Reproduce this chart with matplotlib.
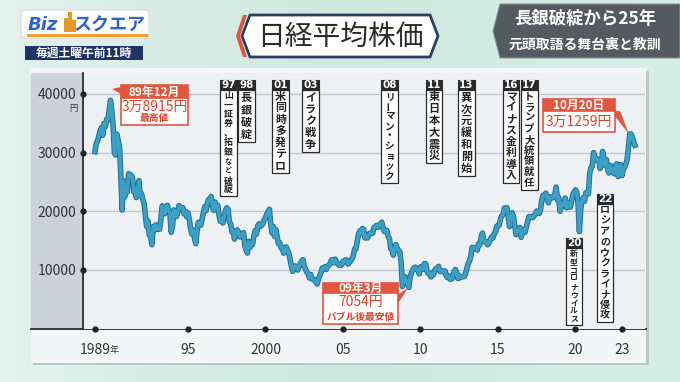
import numpy as np
import matplotlib.pyplot as plt
import matplotlib.patheffects as pe
from matplotlib.patches import Rectangle, Polygon, FancyBboxPatch

plt.rcParams['font.family'] = ['Noto Sans CJK JP', 'DejaVu Sans']

# 日経平均 month-end values (first point = end of 1988)
nikkei = [
    30159,
    31581, 31985, 32839, 33713, 34267, 32948, 34954, 34431, 35637, 35549, 37269, 38915,  # 1989
    37189, 34592, 29980, 29585, 33131, 31940, 31036, 25978, 20222, 25194, 22455, 23849,  # 1990
    23293, 26409, 26292, 26111, 25790, 23291, 23900, 22336, 23916, 25222, 22688, 22984,  # 1991
    22024, 21339, 19346, 17391, 18348, 15952, 15910, 14309, 17399, 16767, 17684, 16925,  # 1992
    17024, 16953, 18591, 20919, 20552, 19590, 20380, 21027, 20106, 19704, 16408, 17417,  # 1993
    20229, 19997, 19112, 19725, 20974, 20644, 20449, 20629, 19564, 19990, 19076, 19723,  # 1994
    18650, 17053, 16140, 16807, 15437, 14485, 16678, 18117, 17913, 17655, 18744, 19868,  # 1995
    20813, 20125, 21407, 22041, 21956, 22531, 20693, 20167, 21556, 20467, 21020, 19361,  # 1996
    18330, 18557, 18003, 19151, 20069, 20605, 20331, 18229, 17888, 16459, 16636, 15259,  # 1997
    16629, 16831, 16527, 15641, 15671, 15830, 16379, 14108, 13406, 12880, 14884, 13842,  # 1998
    14499, 14368, 15837, 16702, 16112, 17530, 17862, 17437, 17605, 17942, 18558, 18934,  # 1999
    19540, 19960, 20337, 17974, 16332, 17411, 15727, 16861, 15747, 14539, 14649, 13786,  # 2000
    13844, 12884, 12999, 13934, 13262, 12969, 11861, 10714, 9775, 10366, 10697, 10543,   # 2001
    9997, 10588, 11025, 11493, 11764, 10622, 10145, 9619, 9383, 8640, 9216, 8579,        # 2002
    8340, 8363, 7973, 7607, 8425, 9083, 9563, 10344, 10219, 10560, 10101, 10677,         # 2003
    10784, 11042, 11715, 11762, 11236, 11859, 11326, 11082, 10824, 10771, 10899, 11489,  # 2004
    11388, 11741, 11668, 11009, 11277, 11584, 11900, 12414, 13574, 13607, 14872, 16111,  # 2005
    16650, 16205, 17060, 16906, 15468, 15505, 15457, 16141, 16128, 16399, 16274, 17226,  # 2006
    17383, 17604, 17288, 17400, 17876, 18138, 17249, 16569, 16786, 16738, 15681, 15308,  # 2007
    13592, 13603, 12526, 13850, 14339, 13481, 13377, 13073, 11260, 7162, 8512, 8860,     # 2008
    7994, 7568, 7054, 8828, 9523, 9958, 10357, 10493, 10133, 10035, 9346, 10546,         # 2009
    10198, 10126, 11090, 11057, 9769, 9383, 9537, 8824, 9369, 9202, 9937, 10229,         # 2010
    10238, 10624, 9755, 9850, 9694, 9816, 9833, 8955, 8700, 8988, 8435, 8455,            # 2011
    8803, 9723, 10084, 9521, 8543, 9007, 8695, 8840, 8870, 8928, 9446, 10395,            # 2012
    11139, 11559, 12398, 13861, 13775, 13677, 13668, 13389, 14456, 14328, 15662, 16291,  # 2013
    14915, 14841, 14828, 14304, 14632, 15162, 15621, 15425, 16174, 16414, 17460, 17451,  # 2014
    17674, 18798, 19207, 19520, 20563, 20236, 20585, 18890, 17388, 19083, 19747, 19034,  # 2015
    17518, 16027, 16759, 16666, 17235, 15576, 16569, 16887, 16450, 17425, 18308, 19114,  # 2016
    19041, 19119, 18909, 19197, 19651, 20033, 19925, 19646, 20356, 22012, 22725, 22765,  # 2017
    23098, 22068, 21454, 22468, 22202, 22305, 22554, 22865, 24120, 21920, 22351, 20015,  # 2018
    20773, 21385, 21206, 22259, 20601, 21276, 21522, 20704, 21756, 22927, 23294, 23657,  # 2019
    23205, 21143, 16552, 20194, 21878, 22288, 21710, 23140, 23185, 22977, 26434, 27444,  # 2020
    27663, 30000, 29179, 28813, 28860, 28792, 27284, 28090, 30200, 28893, 27822, 28792,  # 2021
    27002, 26527, 27821, 26848, 27280, 26393, 27802, 28092, 25937, 27587, 27969, 26095,  # 2022
    27327, 27446, 28041, 28856, 30888, 33189, 33172, 32619, 31858, 31259,                # 2023
]
dates = 1989 + np.arange(len(nikkei)) / 12

y_ticks = [10000, 20000, 30000, 40000]
y_labels = ['10000', '20000', '30000', '40000']
x_ticks = [1989, 1995, 2000, 2005, 2010, 2015, 2020, 2023]
x_labels = ['1989', '95', '2000', '05', '10', '15', '20', '23']

event_years = ['97', '98', '01', '03', '08', '11', '13', '16', '17', '20', '22']
event_texts = ['山一証券、拓銀など破綻', '長銀破綻', '米同時多発テロ', 'イラク戦争',
               'リーマン・ショック', '東日本大震災', '異次元緩和開始', 'マイナス金利導入',
               'トランプ大統領就任', '新型コロナウイルス', 'ロシアのウクライナ侵攻']
# box centre x, header top, box bottom, font size (pixels of the frame)
event_boxes = [(228.5, 80, 196, 7.0), (246.5, 80, 142, 8.0), (280.5, 80, 173, 8.0),
               (310.5, 80, 152, 8.0), (389.5, 80, 183, 7.6), (434, 80, 163, 8.0),
               (466.5, 80, 176, 8.0), (511, 80, 183, 8.0), (529.5, 80, 190, 8.0),
               (574, 238, 325, 6.4), (605, 194, 322, 8.0)]

W, H = 680, 382
fig = plt.figure(figsize=(W / 100, H / 100), dpi=100)
fig.patch.set_facecolor('#d3ebe3')

bg = fig.add_axes([0, 0, 1, 1], label='bg', zorder=0)
bg.set_xlim(0, W)
bg.set_ylim(H, 0)
bg.axis('off')

grad = np.linspace(0, 1, 256).reshape(1, -1)
bg.imshow(grad, extent=(0, W, H, 0), cmap=plt.matplotlib.colors.LinearSegmentedColormap.from_list(
    'm', ['#e2f2ec', '#cde8df', '#d8efe8']), aspect='auto', zorder=0)

# chart panel
bg.add_patch(Rectangle((33, 71), 616, 294, fc='#b9cbc5', ec='none', zorder=1))
bg.add_patch(Rectangle((31, 68), 615, 295, fc='#f4f5f7', ec='none', zorder=2))
bg.add_patch(Rectangle((31, 73), 52, 256, fc='#cdd1dc', ec='none', zorder=3))
bg.plot([31, 646], [328.7, 328.7], color='#2a2a2a', lw=1.3, zorder=4)

# header: logo
bg.add_patch(FancyBboxPatch((21, 10), 128, 28, boxstyle='round,pad=0,rounding_size=4',
                            fc='white', ec='#d8dde0', lw=0.8, zorder=3))
bg.text(28, 25, 'Biz', fontsize=13, fontweight='bold', style='italic', color='#2e66c4',
        family='DejaVu Sans', ha='left', va='center', zorder=4)
for bx, bh in [(64, 14), (68, 20), (72, 12)]:
    bg.add_patch(Rectangle((bx, 32 - bh), 4, bh, fc='#e8952a', ec='none', zorder=4))
bg.text(110, 25, 'スクエア', fontsize=13, fontweight='bold', color='#2e66c4',
        ha='center', va='center', zorder=4)
bg.plot([28, 146], [35, 35], color='#f0a030', lw=2.2, zorder=4)
bg.add_patch(Rectangle((25, 46), 118, 14, fc='#1d3468', ec='none', zorder=3))
bg.text(84, 53, '毎週土曜午前11時', fontsize=8.5, fontweight='bold', color='white',
        ha='center', va='center', zorder=4)

# header: title
bg.add_patch(Polygon([(236, 36), (243, 15), (247, 15), (240, 36), (247, 57), (243, 57)],
                     closed=True, fc='#e05540', ec='none', zorder=3))
bg.add_patch(Polygon([(242, 36), (250, 15), (430, 15), (438, 36), (430, 57), (250, 57)],
                     closed=True, fc='white', ec='#2c3e63', lw=2, zorder=3))
bg.text(340, 37, '日経平均株価', fontsize=20, color='#2a2a2a', ha='center', va='center', zorder=4)

# header: right caption
bg.add_patch(Polygon([(500, 4), (680, 4), (680, 58), (500, 58), (493, 31)],
                     closed=True, fc='#555a60', ec='#8a9096', lw=0.8, zorder=3))
bg.text(585, 19, '長銀破綻から25年', fontsize=12.5, fontweight='bold', color='white',
        ha='center', va='center', zorder=4)
bg.text(585, 45, '元頭取語る舞台裏と教訓', fontsize=10, fontweight='bold', color='white',
        ha='center', va='center', zorder=4)

# the chart itself
ax = fig.add_axes([83 / W, 1 - 328.7 / H, (645 - 83) / W, (328.7 - 73) / H], zorder=1)
ax.set_facecolor('#eef1f4')
ax.set_xlim(1988.226, 2024.484)
ax.set_ylim(0, 43560)
ax.set_yticks(y_ticks)
ax.set_yticklabels(y_labels, fontsize=10, color='#333333')
ax.set_xticks(x_ticks)
ax.set_xticklabels(x_labels, fontsize=10, color='#333333')
ax.tick_params(length=0, pad=5)
ax.tick_params(axis='x', pad=10)
ax.grid(axis='y', color='#c3c7cd', lw=1)
for s in ['top', 'right', 'bottom']:
    ax.spines[s].set_visible(False)
ax.spines['left'].set_color('#2a2a2a')
ax.spines['left'].set_linewidth(1.3)

ax.plot(dates, nikkei, color='#3b9fc6', lw=2.6, solid_joinstyle='round',
        path_effects=[pe.Stroke(linewidth=4.0, foreground='#20708f'), pe.Normal()], zorder=3)
ax.plot([ax.get_xlim()[0]] * len(y_ticks), y_ticks, 'o', ms=3.5, color='#222222', clip_on=False, zorder=4)
ax.plot(x_ticks, [0] * len(x_ticks), 'o', ms=3.5, color='#222222', clip_on=False, zorder=4)

fg = fig.add_axes([0, 0, 1, 1], label='fg', zorder=2)
fg.set_xlim(0, W)
fg.set_ylim(H, 0)
fg.axis('off')
fg.patch.set_alpha(0)

fg.text(73, 108, '円', fontsize=6, color='#333333', ha='center', va='center')
fg.text(114, 350, '年', fontsize=6.5, color='#333333', ha='center', va='center')

# event labels, one character per step, shrunk so neighbours do not touch
r = fig.canvas.get_renderer()
probe = fg.text(0, 0, '国', fontsize=10, fontweight='bold')
probe_h = probe.get_window_extent(r).height / 10
probe.remove()

for year, text, (xc, top, bottom, fs) in zip(event_years, event_texts, event_boxes):
    w = 16.5
    fg.add_patch(Rectangle((xc - w / 2, top), w, 9.5, fc='#2a2a2a', ec='#2a2a2a', lw=0.8))
    fg.text(xc, top + 5, year, color='white', fontsize=7.5, fontweight='bold',
            ha='center', va='center', family='DejaVu Sans')
    fg.add_patch(Rectangle((xc - w / 2, top + 9.5), w, bottom - top - 9.5,
                           fc='white', ec='#2a2a2a', lw=0.9))
    step = (bottom - top - 9.5 - 3) / len(text)
    size = min(fs, (step - 0.4) / probe_h)
    for i, ch in enumerate(text):
        s = size * 0.8 if ch in 'など' and year == '97' else size
        fg.text(xc, top + 11 + step * (i + 0.5), ch, fontsize=s, color='#222222',
                fontweight='bold', ha='center', va='center',
                rotation=90 if ch == 'ー' else 0)

# callouts
red = '#e2553e'


def callout(x0, x1, top, mid, bottom, head, big, small, wedge):
    fg.add_patch(Polygon(wedge, closed=True, fc=red, ec='none'))
    fg.add_patch(Rectangle((x0, top), x1 - x0, mid - top, fc=red, ec=red, lw=1.2))
    fg.add_patch(Rectangle((x0, mid), x1 - x0, bottom - mid, fc='white', ec=red, lw=1.2))
    xc = (x0 + x1) / 2
    fg.text(xc, (top + mid) / 2 + 0.5, head, fontsize=8.5, fontweight='bold', color='white',
            ha='center', va='center')
    if small:
        fg.text(xc, mid + 9, big, fontsize=10, color='#d9432f', ha='center', va='center')
        fg.text(xc, bottom - 7, small, fontsize=7, fontweight='bold', color='#d9432f',
                ha='center', va='center')
    else:
        fg.text(xc, (mid + bottom) / 2 + 0.5, big, fontsize=10, color='#d9432f',
                ha='center', va='center')


callout(121, 188, 85, 98, 125, '89年12月', '3万8915円', '最高値',
        [(121, 87), (121, 94), (112, 89)])
callout(543, 615, 99, 111, 132, '10月20日', '3万1259円', None,
        [(611, 111), (620, 111), (629, 134)])
callout(323, 398, 283, 293, 324, '09年3月', '7054円', 'バブル後最安値',
        [(397, 295), (397, 305), (408, 288)])

fig.savefig('out.png', dpi=100, facecolor=fig.get_facecolor())
